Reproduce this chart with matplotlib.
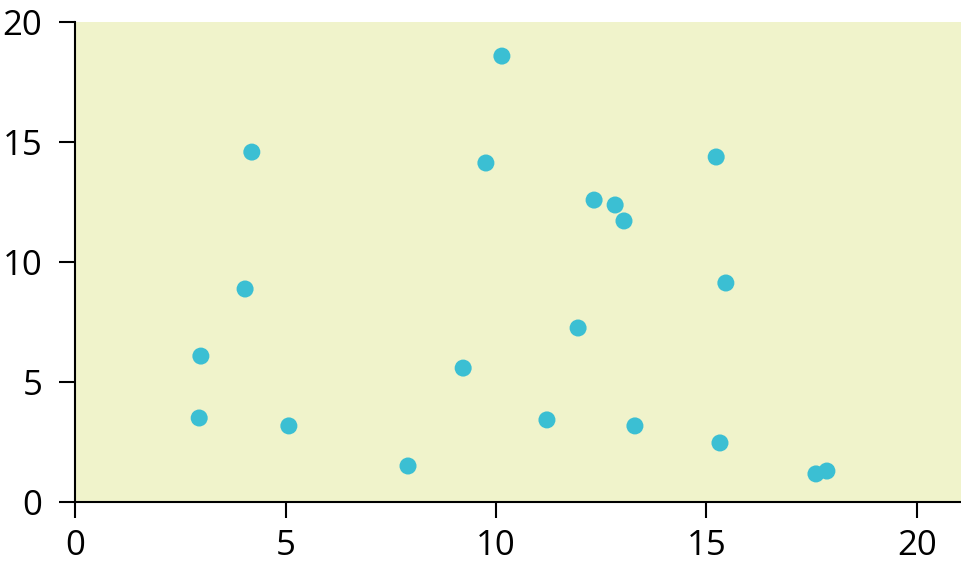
import matplotlib
matplotlib.use("Agg")
import matplotlib.pyplot as plt

x_vals = [2.99, 2.95, 4.04, 4.2, 5.08, 7.91, 9.22, 9.76, 10.14, 11.21,
          11.95, 12.33, 12.83, 13.04, 13.3, 15.23, 15.46, 15.32, 17.6, 17.86]
y_vals = [6.08, 3.5, 8.875, 14.58, 3.17, 1.5, 5.58, 14.125, 18.58, 3.42,
          7.25, 12.58, 12.375, 11.71, 3.17, 14.375, 9.125, 2.46, 1.17, 1.29]
x_ticks = [0, 5, 10, 15, 20]
y_ticks = [0, 5, 10, 15, 20]

plt.rcParams['font.family'] = ['Open Sans', 'DejaVu Sans']

fig = plt.figure(figsize=(9.62, 5.73), dpi=100)
ax = fig.add_axes([75/962, 71/573, 887/962, 480/573])
ax.set_facecolor('#f0f3cb')
ax.scatter(x_vals, y_vals, s=150, color='#3bbfd3', edgecolors='none', zorder=3)
ax.set_xlim(0, 887/42.1)
ax.set_ylim(0, 20)
ax.set_xticks(x_ticks)
ax.set_yticks(y_ticks)
for s in ['top', 'right']:
    ax.spines[s].set_visible(False)
for s in ['left', 'bottom']:
    ax.spines[s].set_linewidth(1.5)
ax.tick_params(direction='out', length=11.5, width=1.5, labelsize=25)
ax.tick_params(axis='x', pad=8)
ax.tick_params(axis='y', pad=12)
fig.savefig('out.png', dpi=100)
